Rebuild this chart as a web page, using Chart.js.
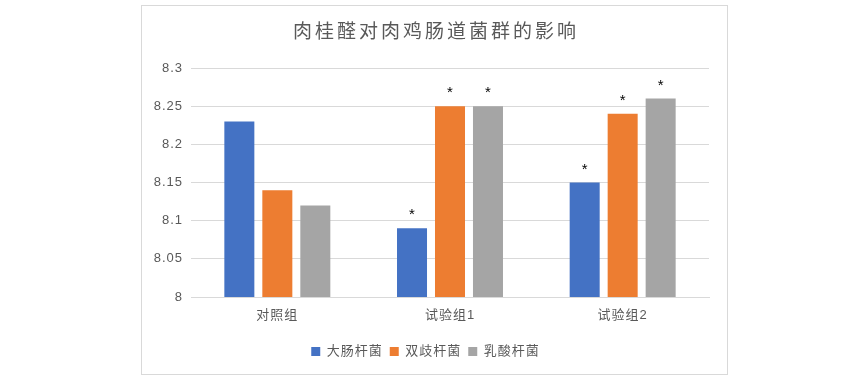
<!DOCTYPE html>
<html>
<head>
<meta charset="utf-8">
<script src="https://cdn.jsdelivr.net/npm/chart.js@4"></script>
<style>
  body { margin: 0; background: #fff; }
  #box {
    position: absolute; left: 141px; top: 5px; width: 585px; height: 368px;
    border: 1px solid #d9d9d9; background: #fff;
  }
</style>
</head>
<body>
<div id="box"><canvas id="c" width="585" height="368"></canvas></div>
<script>
// 数据
const chartTitle = '肉桂醛对肉鸡肠道菌群的影响';
const categories = ['对照组', '试验组1', '试验组2'];
const seriesNames = ['大肠杆菌', '双歧杆菌', '乳酸杆菌'];
const ecoli = [8.23, 8.09, 8.15];
const bifido = [8.14, 8.25, 8.24];
const lacto = [8.12, 8.25, 8.26];
// 显著性标记 (*)
const ecoliSig = [false, true, true];
const bifidoSig = [false, true, true];
const lactoSig = [false, true, true];

const colors = ['#4472C4', '#ED7D31', '#A5A5A5'];
const font = "'Liberation Sans', 'Noto Sans CJK SC', sans-serif";

// 字间距
const spacingPlugin = {
  id: 'spacing',
  beforeUpdate(chart) { chart.ctx.letterSpacing = '1px'; },
  beforeDraw(chart) { chart.ctx.letterSpacing = '1px'; }
};

// 标题 + 星号
const overlayPlugin = {
  id: 'overlay',
  afterDraw(chart) {
    const ctx = chart.ctx;
    ctx.save();
    ctx.letterSpacing = '3px';
    ctx.fillStyle = '#595959';
    ctx.font = "19px 'Noto Sans CJK SC', sans-serif";
    ctx.textAlign = 'center';
    ctx.textBaseline = 'middle';
    ctx.fillText(chartTitle, chart.width / 2 + 1.5, 25);

    const sigs = [ecoliSig, bifidoSig, lactoSig];
    ctx.letterSpacing = '0px';
    ctx.fillStyle = '#000';
    ctx.font = "15px 'Liberation Sans', sans-serif";
    chart.data.datasets.forEach((ds, i) => {
      chart.getDatasetMeta(i).data.forEach((bar, j) => {
        if (sigs[i][j]) ctx.fillText('*', bar.x, bar.y - 13);
      });
    });
    ctx.restore();
  }
};

new Chart(document.getElementById('c'), {
  type: 'bar',
  data: {
    labels: categories,
    datasets: [
      { label: seriesNames[0], data: ecoli, backgroundColor: colors[0] },
      { label: seriesNames[1], data: bifido, backgroundColor: colors[1] },
      { label: seriesNames[2], data: lacto, backgroundColor: colors[2] }
    ]
  },
  options: {
    responsive: false,
    animation: false,
    layout: { padding: { left: 0, right: 18, top: 62, bottom: 6 } },
    datasets: { bar: { categoryPercentage: 0.66, barPercentage: 0.79 } },
    scales: {
      y: {
        min: 8,
        max: 8.3,
        ticks: {
          stepSize: 0.05,
          color: '#595959',
          font: { family: font, size: 13 },
          padding: 8,
          callback: v => String(Math.round(v * 100) / 100)
        },
        grid: { color: '#d9d9d9', drawTicks: false },
        border: { display: false },
        afterFit(scale) { scale.width = 49; }
      },
      x: {
        ticks: { color: '#595959', font: { family: font, size: 13 }, padding: 3 },
        grid: { display: false },
        border: { color: '#d9d9d9' },
        afterFit(scale) { scale.height = 41; }
      }
    },
    plugins: {
      title: { display: false },
      legend: {
        position: 'bottom',
        labels: {
          color: '#595959',
          font: { family: font, size: 13 },
          boxWidth: 9,
          boxHeight: 9,
          padding: 7
        }
      },
      tooltip: { enabled: false }
    }
  },
  plugins: [spacingPlugin, overlayPlugin]
});
</script>
</body>
</html>
